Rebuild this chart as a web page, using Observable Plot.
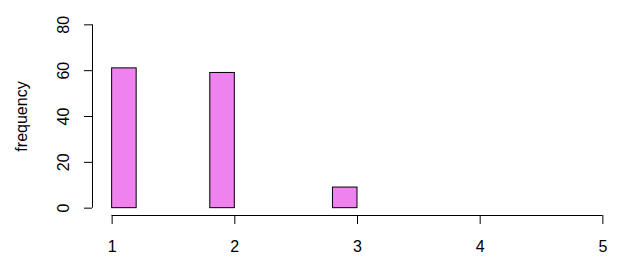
<!DOCTYPE html>
<html>
<head>
<meta charset="utf-8">
<script src="https://cdn.jsdelivr.net/npm/d3@7"></script>
<script src="https://cdn.jsdelivr.net/npm/@observablehq/plot@0.6"></script>
<style>
  html, body { margin: 0; padding: 0; background: #fff; }
</style>
</head>
<body>
<div id="chart"></div>
<script>
// Histogram bins (width 0.2) and counts
const binStarts = [1.0, 1.2, 1.4, 1.6, 1.8, 2.0, 2.2, 2.4, 2.6, 2.8];
const binEnds   = [1.2, 1.4, 1.6, 1.8, 2.0, 2.2, 2.4, 2.6, 2.8, 3.0];
const counts    = [61, 0, 0, 0, 59, 0, 0, 0, 0, 9];
const xTicks = [1, 2, 3, 4, 5];
const yTicks = [0, 20, 40, 60, 80];
const yLabel = "frequency";

const bins = binStarts.map((s, i) => ({x1: s, x2: binEnds[i], n: counts[i]}));

const chart = Plot.plot({
  width: 624,
  height: 262,
  marginLeft: 92,
  marginRight: 2,
  marginTop: 17,
  marginBottom: 47,
  style: {fontFamily: "'Liberation Sans', Arial, sans-serif", fontSize: "16px", color: "#000", background: "#fff"},
  x: {domain: [0.84, 5.16]},
  y: {domain: [-3.2, 83.2]},
  marks: [
    Plot.rect(bins, {x1: "x1", x2: "x2", y1: 0, y2: "n", fill: "#EE82EE", stroke: "#000", strokeWidth: 1}),
    Plot.ruleX([0.84], {y1: 0, y2: 80, stroke: "#000", strokeWidth: 1}),
    Plot.ruleY([-3.2], {x1: 1, x2: 5, stroke: "#000", strokeWidth: 1}),
    Plot.axisX({ticks: xTicks, tickFormat: d3.format("d"), tickSize: 9, tickPadding: 16, label: null, stroke: "#000", strokeOpacity: 1}),
    Plot.axisY({ticks: yTicks, tickFormat: d3.format("d"), tickSize: 8, tickPadding: 16, tickRotate: -90, label: null, stroke: "#000", strokeOpacity: 1}),
    Plot.text([yLabel], {frameAnchor: "left", textAnchor: "middle", dx: -71, rotate: -90, fontSize: 16})
  ]
});
document.getElementById("chart").appendChild(chart);
</script>
</body>
</html>
